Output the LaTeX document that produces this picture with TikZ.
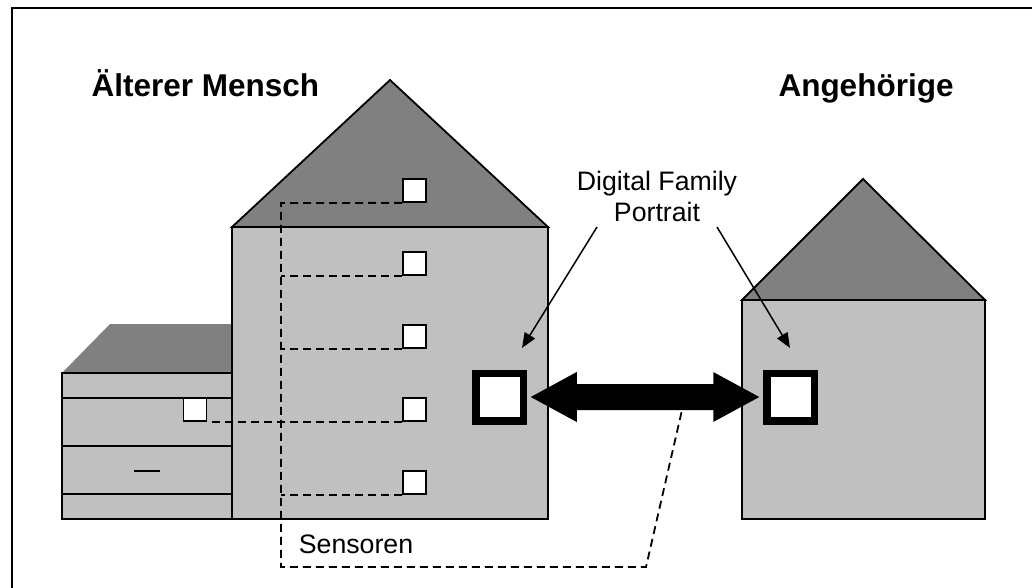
\documentclass[tikz,border=0pt]{standalone}
\usepackage{fontspec}
\setmainfont{Liberation Sans}
\usetikzlibrary{arrows.meta,calc}
\definecolor{wallgray}{RGB}{192,192,192}
\definecolor{roofgray}{RGB}{128,128,128}
\begin{document}
\begin{tikzpicture}[x=1pt,y=-1pt,
  wall/.style={fill=wallgray,draw=black,line width=1.8pt},
  roof/.style={fill=roofgray,draw=black,line width=1.8pt,line join=miter},
  sensor/.style={draw=black,fill=white,line width=1.7pt,minimum size=23pt,inner sep=0pt},
  portrait/.style={draw=black,fill=white,line width=7.5pt,minimum size=47.5pt,inner sep=0pt},
  bus/.style={dash pattern=on 8pt off 5pt,line width=1.8pt},
  note/.style={font=\fontsize{26.7}{31}\selectfont,align=center},
  heading/.style={font=\fontsize{31.5}{36}\selectfont\bfseries,anchor=base,inner sep=0pt},
  pointer/.style={line width=1.5pt,-{Triangle[length=15pt,width=12pt]}}]

\useasboundingbox (0,0) rectangle (1032,588);

% outer frame
\draw[line width=2.4pt] (12,600) -- (12,8) -- (1040,8);

% annex of the elderly person's house
\fill[roofgray] (62,373) -- (110,324) -- (232,324) -- (232,373) -- cycle;
\draw[wall] (62,373) rectangle (232,519);
\foreach \yy in {398,446,494} \draw[line width=1.8pt] (62,\yy) -- (232,\yy);
\draw[line width=1.6pt] (134,471) -- (160,471);

% main house of the elderly person
\draw[roof] (232,227) -- (390,80) -- (548,227) -- cycle;
\draw[wall] (232,227) rectangle (548,519);

% relatives' house
\draw[roof] (742,300) -- (863,179) -- (985,300) -- cycle;
\draw[wall] (742,300) rectangle (985,519);

% sensors
\node[sensor] (s1) at (414.5,190.5) {};
\node[sensor] (s2) at (414.5,263.5) {};
\node[sensor] (s3) at (414.5,336.5) {};
\node[sensor] (s4) at (414.5,409.5) {};
\node[sensor] (s5) at (414.5,482.5) {};
\node[sensor] (w)  at (195,409.5) {};

% sensor bus
\coordinate (bt) at (281,203);
\coordinate (bb) at (281,567);
\coordinate (bc) at (646,567);
\coordinate (busend) at (682,410);
\draw[bus] (s1.south west) -- (bt) -- (bb) -- (bc) -- (busend);
\draw[bus] (s2.south west) -- (bt |- s2.south west);
\draw[bus] (s3.south west) -- (bt |- s3.south west);
\draw[bus] (s4.south west) -- (w.south east);
\draw[bus] (s5.south west) -- (bt |- s5.south west);

% digital family portraits
\node[portrait] (pl) at (499.5,397) {};
\node[portrait] (pr) at (790.5,397) {};

% two-way link
\coordinate (aL) at ($(pl.east)+(3.75,0)$);
\coordinate (aR) at ($(pr.west)+(-3.75,0)$);
\fill[black] (aL) -- ++(46,-25) -- ++(0,12) -- ($(aR)+(-46,-13)$) -- ++(0,-12)
  -- (aR) -- ++(-46,25) -- ++(0,-12) -- ($(aL)+(46,13)$) -- ++(0,12) -- cycle;

% labels
\node[heading] (lold) at (205.5,97) {Älterer Mensch};
\node[heading] (lrel) at (866,97) {Angehörige};
\node[note] (dfp) at (657,196) {Digital Family\\Portrait};
\node[note,anchor=base] (sens) at (356,553) {Sensoren};

\coordinate (tipL) at (522,348);
\coordinate (tipR) at (790,348);
\draw[pointer] (597,227) -- (tipL);
\draw[pointer] (717,227) -- (tipR);
\end{tikzpicture}
\end{document}
